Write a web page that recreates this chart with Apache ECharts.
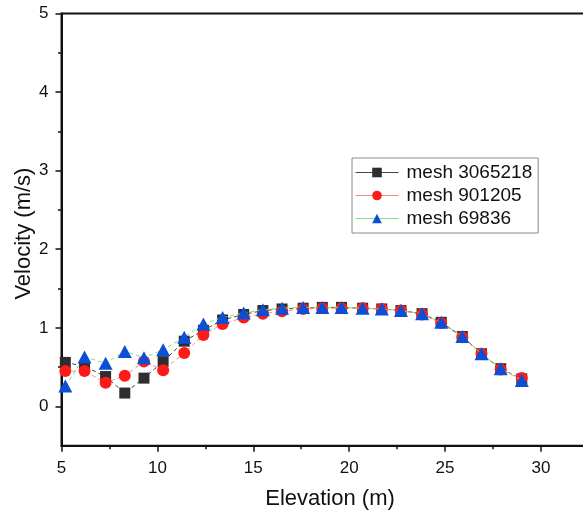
<!DOCTYPE html>
<html>
<head>
<meta charset="utf-8">
<script src="https://cdn.jsdelivr.net/npm/echarts@6/dist/echarts.min.js"></script>
<style>
  html, body { margin: 0; padding: 0; background: #fff; }
  #chart { width: 583px; height: 518px; }
</style>
</head>
<body>
<div id="chart"></div>
<script>
// Elevation positions of the sampling points (m)
const elevation = [5.2, 6.2, 7.3, 8.3, 9.3, 10.3, 11.4, 12.4, 13.4, 14.5, 15.5, 16.5,
                   17.6, 18.6, 19.6, 20.7, 21.7, 22.7, 23.8, 24.8, 25.9, 26.9, 27.9, 29.0];

// Velocity (m/s) for each mesh
const mesh3065218 = [0.56, 0.51, 0.38, 0.17, 0.36, 0.57, 0.83, 0.97, 1.10, 1.17, 1.22, 1.24,
                     1.25, 1.26, 1.26, 1.25, 1.24, 1.22, 1.18, 1.07, 0.89, 0.67, 0.48, 0.35];
const mesh901205  = [0.45, 0.45, 0.30, 0.39, 0.57, 0.46, 0.68, 0.91, 1.05, 1.13, 1.18, 1.21,
                     1.24, 1.25, 1.25, 1.25, 1.24, 1.22, 1.17, 1.06, 0.88, 0.67, 0.47, 0.36];
const mesh69836   = [0.26, 0.63, 0.55, 0.70, 0.62, 0.72, 0.88, 1.05, 1.13, 1.19, 1.23, 1.25,
                     1.26, 1.26, 1.26, 1.25, 1.24, 1.22, 1.18, 1.07, 0.89, 0.67, 0.48, 0.33];

const seriesNames = ['mesh 3065218', 'mesh 901205', 'mesh 69836'];
const yMajorTicks = [0, 1, 2, 3, 4, 5];
const yMinorTicks = [0.5, 1.5, 2.5, 3.5, 4.5];

const FONT = "'Liberation Sans', Arial, sans-serif";

function pairs(ys) {
  return elevation.map((x, i) => [x, ys[i]]);
}

const chart = echarts.init(document.getElementById('chart'), null, { renderer: 'canvas' });

chart.setOption({
  animation: false,
  backgroundColor: '#ffffff',
  grid: {
    left: 61.5,
    top: 13.5,
    width: 537,
    height: 432.2,
    containLabel: false,
    outerBoundsMode: 'none',
    show: true,
    borderColor: '#111',
    borderWidth: 2,
    backgroundColor: 'transparent'
  },
  legend: {
    orient: 'vertical',
    left: 352,
    top: 158,
    width: 187,
    padding: [5, 6, 5, 3],
    itemWidth: 43,
    itemHeight: 12,
    itemGap: 4,
    backgroundColor: '#fff',
    borderColor: '#8a8a8a',
    borderWidth: 1,
    lineStyle: { type: 'solid', width: 1 },
    textStyle: { fontFamily: FONT, fontSize: 19, color: '#111', padding: [0, 0, 0, 3] },
    data: seriesNames
  },
  xAxis: {
    type: 'value',
    min: 5,
    max: 33,
    interval: 5,
    name: 'Elevation (m)',
    nameLocation: 'middle',
    nameGap: 42,
    nameMoveOverlap: false,
    nameTextStyle: { fontFamily: FONT, fontSize: 22, color: '#111' },
    axisLine: { show: true, onZero: false, lineStyle: { color: '#111', width: 2 } },
    axisTick: { show: true, inside: false, length: 6, lineStyle: { color: '#111', width: 1.5 } },
    minorTick: { show: true, splitNumber: 2, length: 3.5, lineStyle: { color: '#111', width: 1.5 } },
    axisLabel: { fontFamily: FONT, fontSize: 17, color: '#111', margin: 14,
                 customValues: [5, 10, 15, 20, 25, 30] },
    splitLine: { show: false }
  },
  yAxis: [
    {
      type: 'value',
      min: -0.5,
      max: 5,
      position: 'left',
      name: 'Velocity (m/s)',
      nameLocation: 'middle',
      nameGap: 27,
      nameMoveOverlap: false,
      nameTextStyle: { fontFamily: FONT, fontSize: 22, color: '#111', padding: [0, 8, 0, 0] },
      axisLine: { show: true, onZero: false, lineStyle: { color: '#111', width: 2 } },
      axisTick: { show: true, inside: false, length: 6, customValues: yMajorTicks,
                  lineStyle: { color: '#111', width: 1.5 } },
      axisLabel: { fontFamily: FONT, fontSize: 17, color: '#111', margin: 13,
                   customValues: yMajorTicks },
      splitLine: { show: false }
    },
    {
      type: 'value',
      min: -0.5,
      max: 5,
      position: 'left',
      offset: 0,
      axisLine: { show: false, onZero: false },
      axisTick: { show: true, inside: false, length: 3.5, customValues: yMinorTicks,
                  lineStyle: { color: '#111', width: 1.5 } },
      axisLabel: { show: false },
      splitLine: { show: false }
    }
  ],
  series: [
    {
      name: seriesNames[0],
      type: 'line',
      data: pairs(mesh3065218),
      symbol: 'rect',
      symbolSize: 11,
      itemStyle: { color: '#2e2e2e' },
      lineStyle: { color: '#444444', width: 1, type: [4, 3] },
      z: 2
    },
    {
      name: seriesNames[1],
      type: 'line',
      data: pairs(mesh901205),
      symbol: 'circle',
      symbolSize: 12,
      itemStyle: { color: '#ff1a1a' },
      lineStyle: { color: '#f48a8a', width: 1, type: [4, 3] },
      z: 3
    },
    {
      name: seriesNames[2],
      type: 'line',
      data: pairs(mesh69836),
      symbol: 'triangle',
      symbolSize: [14, 13],
      itemStyle: { color: '#0a4fd6' },
      lineStyle: { color: '#7fe07f', width: 1, type: [4, 3] },
      z: 4
    }
  ]
});
</script>
</body>
</html>
